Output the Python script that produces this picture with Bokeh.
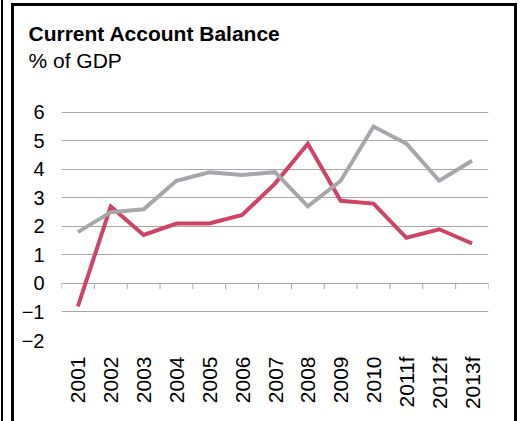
import math
from bokeh.plotting import figure
from bokeh.models import FixedTicker, Title, Range1d
from bokeh.embed import file_html
from bokeh.resources import INLINE

# ---- data ----
years = ["2001", "2002", "2003", "2004", "2005", "2006", "2007",
         "2008", "2009", "2010", "2011f", "2012f", "2013f"]
red_vals = [-0.8, 2.7, 1.7, 2.1, 2.1, 2.4, 3.5, 4.9, 2.9, 2.8, 1.6, 1.9, 1.4]
gray_vals = [1.8, 2.5, 2.6, 3.6, 3.9, 3.8, 3.9, 2.7, 3.6, 5.5, 4.9, 3.6, 4.3]
y_ticks = [-2, -1, 0, 1, 2, 3, 4, 5, 6]
title_text = "Current Account Balance"
subtitle_text = "% of GDP"

FONT = "Liberation Sans"
RED = "#CF4466"
GRAY = "#A5A7AA"
GRID = "#A8A8A8"

n = len(years)
xs = [i + 0.5 for i in range(n)]
bounds = list(range(n + 1))
Y_TOP_PAD = 1.36  # white space above the top gridline inside the frame

W, H = 500, 415
p = figure(width=W, height=H, output_backend="svg", toolbar_location=None,
           x_range=Range1d(0, n),
           y_range=Range1d(y_ticks[0], y_ticks[-1] + Y_TOP_PAD),
           min_border_left=47, min_border_right=26,
           min_border_top=0, min_border_bottom=81)
p.outline_line_color = None
p.background_fill_color = "white"
p.border_fill_color = "white"
p.styles = {
    "position": "relative", "left": "14px", "top": "6px",
    "box-shadow": ("-3px 0 0 0 black, 3px 0 0 0 black, 0 -3px 0 0 black, "
                   "-3px -3px 0 0 black, 3px -3px 0 0 black, "
                   "-11px 0 0 0 white, -11px -6px 0 0 white, "
                   "-13px 0 0 0 black, -13px -6px 0 0 black"),
}

# titles (first added sits closest to the frame)
p.title = None
sub = Title(text=subtitle_text, align="left", offset=-33, standoff=3,
            text_font=FONT, text_font_size="21px", text_font_style="normal",
            text_color="black")
ttl = Title(text=title_text, align="left", offset=-33, standoff=2,
            text_font=FONT, text_font_size="21px", text_font_style="bold",
            text_color="black")
spacer = Title(text=" ", align="left", standoff=8,
               text_font=FONT, text_font_size="2px", text_color="white")
p.add_layout(sub, "above")
p.add_layout(ttl, "above")
p.add_layout(spacer, "above")

# grid
p.xgrid.visible = False
p.ygrid.ticker = FixedTicker(ticks=y_ticks)
p.ygrid.grid_line_color = GRID
p.ygrid.grid_line_width = 1

# y axis
p.yaxis.ticker = FixedTicker(ticks=y_ticks)
p.yaxis.axis_line_color = None
p.yaxis.major_tick_line_color = None
p.yaxis.minor_tick_line_color = None
p.yaxis.major_tick_in = 0
p.yaxis.major_tick_out = 0
p.yaxis.major_label_standoff = 17
p.yaxis.major_label_text_font = FONT
p.yaxis.major_label_text_font_size = "20px"
p.yaxis.major_label_text_color = "black"

# x axis (labels only)
p.xaxis.ticker = FixedTicker(ticks=xs)
p.xaxis.major_label_overrides = {x: lab for x, lab in zip(xs, years)}
p.xaxis.axis_line_color = None
p.xaxis.major_tick_line_color = None
p.xaxis.minor_tick_line_color = None
p.xaxis.major_tick_in = 0
p.xaxis.major_tick_out = 0
p.xaxis.major_label_standoff = 16
p.xaxis.major_label_orientation = math.pi / 2
p.xaxis.major_label_text_font = FONT
p.xaxis.major_label_text_font_size = "21px"
p.xaxis.major_label_text_color = "black"

# category axis at zero with ticks between categories
p.segment(x0=bounds[0], y0=0, x1=bounds[-1], y1=0, line_color=GRID, line_width=1)
p.segment(x0=bounds, y0=[0] * len(bounds), x1=bounds, y1=[-0.2] * len(bounds),
          line_color=GRID, line_width=1)

# series
p.line(xs, red_vals, line_color=RED, line_width=4, line_join="miter")
p.line(xs, gray_vals, line_color=GRAY, line_width=4, line_join="miter")

open("out.html", "w").write(file_html(p, INLINE))
